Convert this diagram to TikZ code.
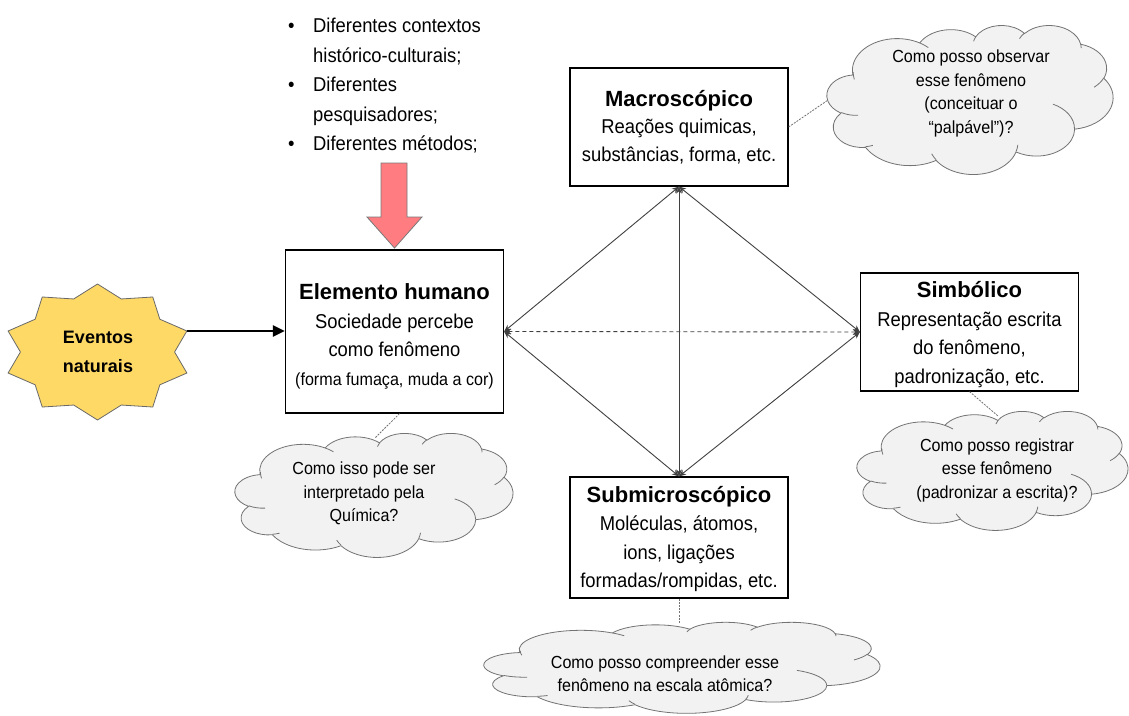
\documentclass[tikz,border=0pt]{standalone}
\usepackage{fontspec}
\setmainfont{Liberation Sans}
\newfontfamily\nfont{Liberation Sans}[FakeStretch=0.92]
\usetikzlibrary{arrows.meta,calc}

\definecolor{starfill}{RGB}{255,217,102}
\definecolor{starline}{RGB}{105,105,105}
\definecolor{redfill}{RGB}{255,124,128}
\definecolor{redline}{RGB}{120,120,120}
\definecolor{cloudfill}{RGB}{242,242,242}
\definecolor{cloudline}{RGB}{115,115,115}
\definecolor{linkgray}{RGB}{64,64,64}

% box headings: plain-width bold, with a strut of the given height (pt)
\newcommand\boxhead[1]{\normalfont\bfseries\fontsize{22}{28.5}\selectfont\rule{0pt}{#1pt}}

% visual (ellipse) angle -> parametric angle, kept on the same turn
\pgfmathdeclarefunction{pptang}{3}{%
  \begingroup
    \pgfmathparse{atan2((#2)*sin(#1),(#3)*cos(#1))}%
    \let\pptt\pgfmathresult
    \pgfmathparse{\pptt+360*round(((#1)-\pptt)/360)}%
    \pgfmathsmuggle\pgfmathresult
  \endgroup}

% elliptic arc: radii, start angle, sweep (degrees)
\newcommand\carc[4]{arc[x radius=#1, y radius=#2, start angle={pptang(#3,#1,#2)}, end angle={pptang(#3+#4,#1,#2)}]}

% thought cloud in a 432 x 432 frame, placed at (#1,#2) with size #3 x #4
\newcommand\pptcloud[4]{%
  \pgfmathsetmacro\cloudsx{#3/432}%
  \pgfmathsetmacro\cloudsy{#4/432}%
  \begin{scope}[shift={(#1,#2)}, x=\cloudsx pt, y=-\cloudsy pt]
    \path[cloudbody] (39.00,143.70)
      \carc{67.53}{91.90}{-190.487483}{123.780533}
      \carc{53.33}{72.67}{-144.102383}{89.945233}
      \carc{43.65}{59.45}{-145.807917}{99.723017}
      \carc{48.57}{65.95}{-130.986067}{117.241733}
      \carc{53.33}{72.73}{-78.708883}{109.026917}
      \carc{67.75}{92.20}{-46.26725}{130.269}
      \carc{57.85}{78.67}{0.625017}{114.033333}
      \carc{67.52}{92.15}{22.4516}{115.17255}
      \carc{77.20}{105.43}{66.242633}{75.711017}
      \carc{43.60}{59.18}{-274.942083}{146.735567}
      \carc{43.45}{59.45}{-246.8285}{152.51885}
      -- cycle;
    \path[cloudcrease]
      (46.93,261.77) \carc{43.45}{59.45}{86.742}{26.4295}
      (69.28,348.99) \carc{43.60}{59.18}{73.610467}{11.447467}
      (164.78,390.90) \carc{67.52}{92.15}{137.62415}{14.0811}
      (288.27,347.51) \carc{67.52}{92.15}{6.453267}{15.99835}
      (341.29,229.54) \carc{57.85}{78.67}{-70.29235}{70.917367}
      (417.98,153.54) \carc{53.33}{72.73}{30.318033}{27.7515}
      (383.24,54.26) \carc{48.57}{65.95}{-13.744333}{14.8589}
      (290.78,39.52) \carc{48.57}{65.95}{-149.18145}{18.195367}
      (221.41,47.20) \carc{43.65}{59.45}{-163.494267}{17.68635}
      (140.00,51.92) \carc{67.53}{91.90}{-66.70695}{12.31935}
      (41.27,157.89) \carc{67.53}{91.90}{162.472267}{18.218683};
  \end{scope}}

\tikzset{
  box/.style={draw=black, line width=1.2pt, fill=white, minimum width=218pt,
    minimum height=#1, inner sep=0pt, align=center,
    font=\nfont\fontsize{20}{28.5}\selectfont},
  cloudbody/.style={draw=cloudline, fill=cloudfill, line width=0.8pt},
  cloudcrease/.style={draw=cloudline, line width=0.8pt},
  cloudtext/.style={align=center, inner sep=0pt,
    font=\nfont\fontsize{17.5}{23.5}\selectfont},
  link/.style={draw=linkgray, line width=0.9pt,
    {Stealth[length=7pt,width=6pt]}-{Stealth[length=7pt,width=6pt]}},
  note/.style={draw=cloudline, line width=0.8pt, dash pattern=on 2pt off 1.2pt},
}

\begin{document}
\begin{tikzpicture}[x=1pt,y=-1pt]
  \useasboundingbox (0,0) rectangle (1129,715);
  \fill[white] (0,0) rectangle (1129,715);

  % the four levels
  \node[box=163pt] (elem) at (394.5,331.5)
    {{\boxhead{26}Elemento humano}\\Sociedade percebe\\como fenômeno\\
     {\fontsize{17.5}{27}\selectfont (forma fumaça, muda a cor)}};
  \node[box=118pt, font=\nfont\fontsize{20}{27.5}\selectfont] (macro) at (679,127)
    {{\boxhead{16}Macroscópico}\\Reações quimicas,\\substâncias, forma, etc.};
  \node[box=118pt] (simb) at (969.5,332)
    {{\boxhead{21}Simbólico}\\Representação escrita\\do fenômeno,\\padronização, etc.};
  \node[box=121pt] (sub) at (679,537.5)
    {{\boxhead{19}Submicroscópico}\\Moléculas, átomos,\\ions, ligações\\formadas/rompidas, etc.};

  % links between the levels
  \draw[link] (macro.south) -- (elem.east);
  \draw[link] (macro.south) -- (simb.west);
  \draw[link] (elem.east) -- (sub.north);
  \draw[link] (simb.west) -- (sub.north);
  \draw[link] (macro.south) -- (sub.north);
  \draw[link, dash pattern=on 4pt off 3pt] (elem.east) -- (simb.west);

  % list of influences and the block arrow into the human element
  \node[anchor=base west, inner sep=0pt] (infl) at (288,32.5)
    {\nfont\fontsize{20}{29.5}\selectfont
     \begin{tabular}[t]{@{}p{25pt}@{}l@{}}
       \textbullet & Diferentes contextos\\
                   & histórico-culturais;\\
       \textbullet & Diferentes\\
                   & pesquisadores;\\
       \textbullet & Diferentes métodos;
     \end{tabular}};
  \draw[fill=redfill, draw=redline, line width=0.8pt]
    (381,163) -- (407,163) -- (407,217) -- (422,217) -- (394.5,248)
    -- (367,217) -- (381,217) -- cycle;

  % natural events star
  \path[draw=starline, fill=starfill, line width=0.8pt]
    (97.5,284) \foreach \i in {1,...,19}{
      -- ({97.5+94*(0.91+0.09*cos(180*\i))*cos(90-18*\i)},
          {352-68*(0.91+0.09*cos(180*\i))*sin(90-18*\i)})
    } -- cycle;
  \node[align=center, inner sep=0pt, font=\bfseries\fontsize{18}{29}\selectfont]
    (ev) at (98,352) {Eventos\\naturais};
  \coordinate (evtip) at ({97.5+94*cos(18)},{352-68*sin(18)});
  \draw[line width=2.6pt, -{Triangle[length=12pt,width=11pt]}]
    (evtip) -- (evtip -| elem.west);

  % notes to the clouds
  \coordinate (q1in) at (831,98);
  \coordinate (q2in) at (375,438);
  \coordinate (q3in) at (998,416);
  \coordinate (q4in) at (679,624);
  \draw[note] (macro.east) -- (q1in);
  \draw[note] ([xshift=5pt]elem.south) -- (q2in);
  \draw[note] (simb.south) -- (q3in);
  \draw[note] (sub.south) -- (q4in);

  % clouds
  \pptcloud{827}{25}{286}{149}
  \pptcloud{235}{433}{278}{124}
  \pptcloud{857}{411}{271}{119}
  \pptcloud{484}{622}{396}{91}

  \node[cloudtext] (q1) at (971,93.5)
    {Como posso observar\\esse fenômeno\\(conceituar o\\“palpável”)?};
  \node[cloudtext] (q2) at (364,493.5)
    {Como isso pode ser\\interpretado pela\\Química?};
  \node[cloudtext] (q3) at (997,470)
    {Como posso registrar\\esse fenômeno\\(padronizar a escrita)?};
  \node[cloudtext] (q4) at (665,673.5)
    {Como posso compreender esse\\fenômeno na escala atômica?};
\end{tikzpicture}
\end{document}
